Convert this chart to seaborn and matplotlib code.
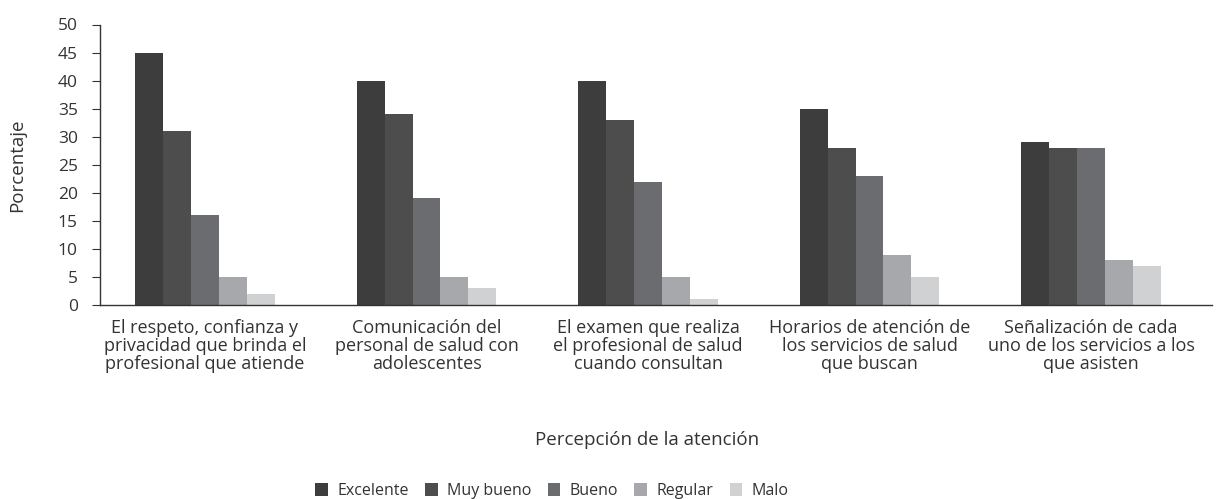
import pandas as pd
import seaborn as sns
import matplotlib.pyplot as plt
from matplotlib.patches import Patch

# --- datos ---
categorias = [
    "El respeto, confianza y\nprivacidad que brinda el\nprofesional que atiende",
    "Comunicación del\npersonal de salud con\nadolescentes",
    "El examen que realiza\nel profesional de salud\ncuando consultan",
    "Horarios de atención de\nlos servicios de salud\nque buscan",
    "Señalización de cada\nuno de los servicios a los\nque asisten",
]
niveles = ["Excelente", "Muy bueno", "Bueno", "Regular", "Malo"]
excelente = [45, 40, 40, 35, 29]
muy_bueno = [31, 34, 33, 28, 28]
bueno = [16, 19, 22, 23, 28]
regular = [5, 5, 5, 9, 8]
malo = [2, 3, 1, 5, 7]
colores = ["#3d3d3d", "#4d4d4d", "#6b6c70", "#a7a8ac", "#d0d1d3"]

series = [excelente, muy_bueno, bueno, regular, malo]
rows = []
for nivel, vals in zip(niveles, series):
    for cat, v in zip(categorias, vals):
        rows.append({"cat": cat, "nivel": nivel, "pct": v})
df = pd.DataFrame(rows)

sns.set_theme(style="white")
plt.rcParams['font.family'] = ['Open Sans', 'DejaVu Sans']
plt.rcParams['text.color'] = '#333333'

fig = plt.figure(figsize=(12.18, 4.99), dpi=100)
ax = fig.add_axes([100 / 1218, 1 - 305 / 499, 1112 / 1218, (305 - 24.5) / 499])

sns.barplot(data=df, x="cat", y="pct", hue="nivel", order=categorias,
            hue_order=niveles, palette=colores, width=0.63, gap=0,
            saturation=1, linewidth=0, legend=False, ax=ax)

ax.set_xlim(-0.474, 4.546)
ax.set_ylim(0, 50)
ax.set_yticks(range(0, 51, 5))
ax.tick_params(axis='y', length=6, width=0.8, color='#333333', labelsize=12.5,
               labelcolor='#333333', pad=10, direction='out', left=True)
ax.tick_params(axis='x', length=0, labelsize=13, labelcolor='#333333', pad=10)
for s in ['top', 'right']:
    ax.spines[s].set_visible(False)
for s in ['left', 'bottom']:
    ax.spines[s].set_color('#333333')
    ax.spines[s].set_linewidth(1.0)

ax.set_xlabel("")
ax.set_ylabel("Porcentaje", fontsize=13.5, color='#333333', labelpad=14)
ax.yaxis.set_label_coords(-74 / 1112, 0.5)
for lbl in ax.get_xticklabels():
    lbl.set_multialignment('center')
    lbl.set_linespacing(1.0)

fig.text(647 / 1218, 1 - 440 / 499, "Percepción de la atención",
         ha='center', va='center', fontsize=13.5, color='#333333')

handles = [Patch(facecolor=c, edgecolor='none') for c in colores]
fig.legend(handles, niveles, loc='center', bbox_to_anchor=(552 / 1218, 1 - 491 / 499),
           ncol=5, frameon=False, fontsize=11.5, handlelength=0.8, handleheight=0.8,
           handletextpad=0.6, columnspacing=1.0, borderpad=0)

fig.savefig("out.png", dpi=100)
